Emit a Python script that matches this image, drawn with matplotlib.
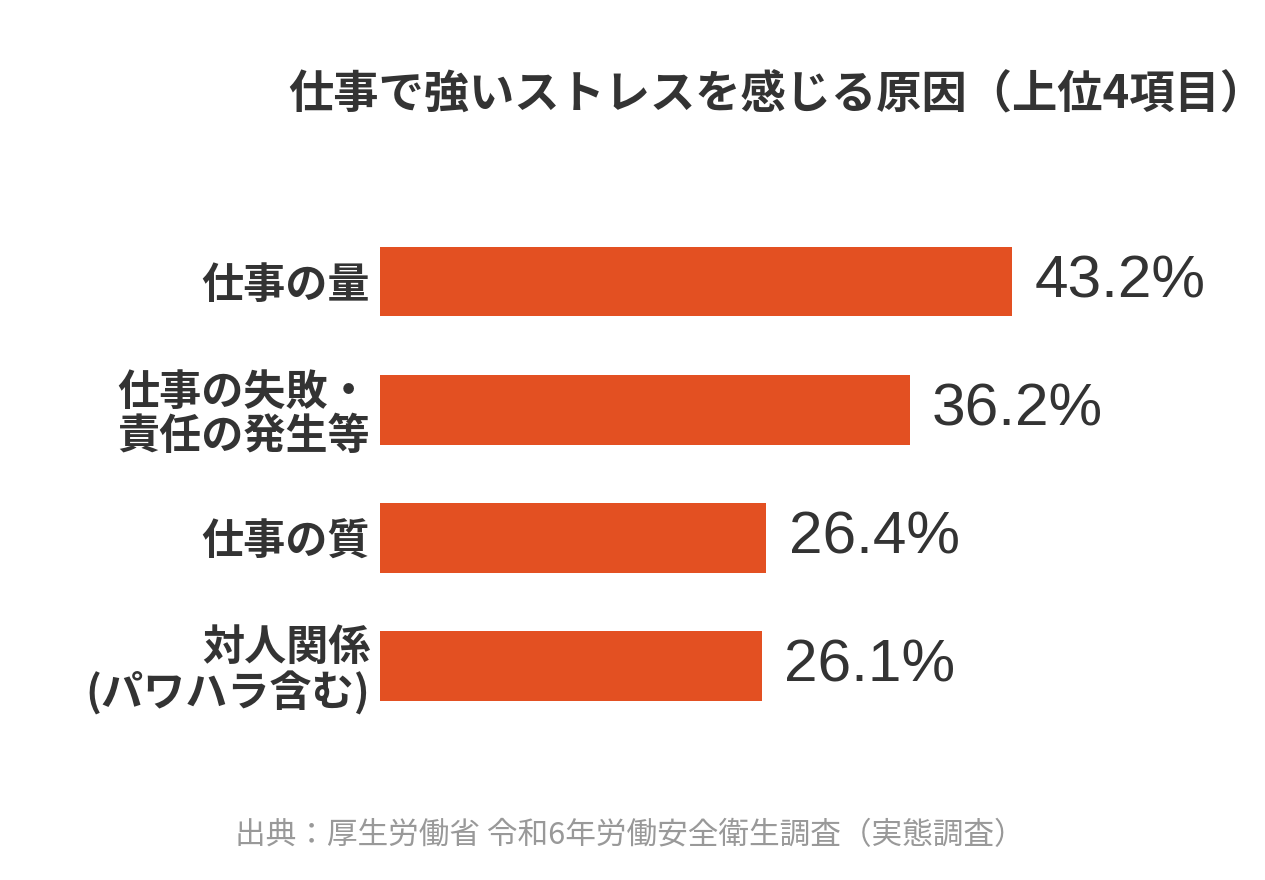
import matplotlib
matplotlib.use('Agg')
from matplotlib import pyplot as plt

plt.rcParams['font.family'] = ['Noto Sans CJK JP', 'DejaVu Sans']

categories = ['仕事の量', '仕事の失敗・\n責任の発生等', '仕事の質', '対人関係\n(パワハラ含む)']
values = [43.2, 36.2, 26.4, 26.1]
value_labels = ['43.2%', '36.2%', '26.4%', '26.1%']

title = '仕事で強いストレスを感じる原因（上位4項目）'
source = '出典：厚生労働省 令和6年労働安全衛生調査（実態調査）'

bar_color = '#E35022'
text_color = '#333333'

fig = plt.figure(figsize=(12.65, 8.8), dpi=100)
fig.patch.set_facecolor('white')
ax = fig.add_axes([380 / 1265, 0.1705, 878 / 1265, 0.5824])

pos = list(range(len(categories)))
ax.barh(pos, values, height=0.545, color=bar_color)
ax.set_xlim(0, 60)
ax.set_ylim(3.5, -0.5)

for p, v, lab in zip(pos, values, value_labels):
    ax.annotate(lab, xy=(v, p), xytext=(16, 0), textcoords='offset points',
                ha='left', va='center', fontsize=43.5, color=text_color,
                family=['Liberation Sans', 'DejaVu Sans'])

ax.set_yticks(pos)
ax.set_yticklabels(categories, fontsize=30.3, fontweight='bold', color=text_color,
                   linespacing=1.05)
ax.tick_params(axis='y', length=0, pad=7)
ax.set_xticks([])
for s in ax.spines.values():
    s.set_visible(False)

# title box is wider than its ink (full-width parens), keep it inside the canvas
fig.text(777 / 1265, 1 - 95 / 880, title, ha='center', va='center',
         fontsize=32.6, fontweight='bold', color=text_color)
fig.text(630 / 1265, 1 - 836 / 880, source, ha='center', va='center',
         fontsize=22.1, color='#999999')

fig.savefig('out.png', dpi=100, facecolor='white')
